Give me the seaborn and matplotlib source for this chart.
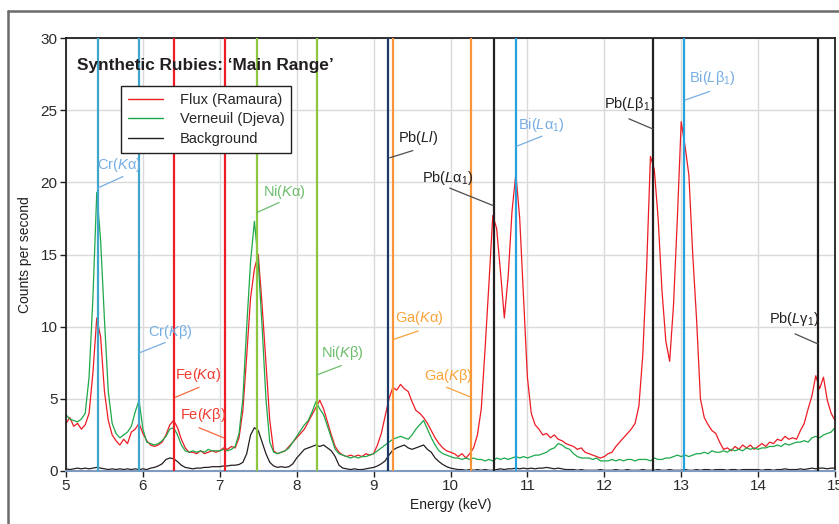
import numpy as np
import pandas as pd
import matplotlib
matplotlib.use("Agg")
import matplotlib.pyplot as plt
import seaborn as sns
from matplotlib import font_manager
from matplotlib.lines import Line2D

# ---------------- data ----------------
energy = np.round(np.arange(5.0, 15.0001, 0.05), 2)  # keV sampling grid

flux = (
    [3.3, 3.7, 3.1, 3.3, 2.9, 3.2, 4.0, 6.8, 10.6, 9.3, 5.5, 3.5, 2.5, 2.1, 1.8, 2.2, 1.9, 2.7, 2.9, 3.3]
    + [2.6, 2.1, 1.8, 1.7, 1.8, 2.0, 2.5, 3.2, 3.5, 3.0, 2.2, 1.6, 1.3, 1.3, 1.2, 1.4, 1.2, 1.3, 1.4, 1.3]
    + [1.4, 1.6, 1.5, 1.7, 1.6, 2.3, 4.2, 8.0, 12.0, 14.0, 15.0, 11.5, 7.5, 3.5, 1.4, 1.2, 1.3, 1.4, 1.7, 2.0]
    + [2.3, 2.6, 2.9, 3.4, 3.9, 4.4, 4.9, 4.3, 3.4, 2.5, 1.7, 1.3, 1.1, 1.0, 1.1, 1.0, 1.1, 1.0, 1.2, 1.1]
    + [1.2, 1.8, 2.6, 3.8, 5.0, 5.8, 5.6, 6.0, 5.7, 5.5, 4.8, 4.2, 4.0, 3.7, 3.3, 2.8, 2.3, 1.9, 1.6, 1.4]
    + [1.3, 1.2, 1.0, 1.2, 0.9, 1.2, 1.6, 2.5, 4.3, 8.5, 13.0, 17.7, 16.8, 13.8, 10.6, 13.5, 18.0, 20.6, 17.5, 12.0]
    + [6.5, 4.0, 3.2, 2.9, 2.5, 2.6, 2.3, 2.5, 2.2, 2.1, 1.9, 1.8, 1.7, 1.5, 1.6, 1.3, 1.2, 1.1, 1.0, 0.9]
    + [1.0, 1.2, 1.3, 1.7, 2.0, 2.3, 2.6, 2.9, 3.3, 4.5, 8.0, 14.0, 21.8, 20.9, 17.5, 12.5, 9.0, 7.6, 11.5, 17.5]
    + [24.2, 22.5, 20.5, 15.0, 10.5, 5.0, 3.7, 3.2, 2.8, 2.6, 2.0, 1.5, 1.6, 1.4, 1.7, 1.5, 1.8, 1.6, 1.8, 1.5]
    + [1.7, 1.9, 1.7, 2.0, 1.9, 2.2, 2.1, 2.4, 2.2, 2.3, 2.2, 2.8, 3.3, 4.3, 5.2, 6.6, 5.7, 6.5, 4.9, 4.0]
    + [3.5]
)

verneuil = (
    [3.9, 3.6, 3.5, 3.4, 3.6, 4.0, 6.5, 12.0, 19.3, 16.0, 10.5, 5.5, 3.3, 2.6, 2.3, 2.5, 2.7, 3.1, 4.1, 4.9]
    + [2.9, 2.0, 1.9, 1.8, 1.9, 2.1, 2.4, 2.9, 3.0, 2.5, 1.8, 1.4, 1.3, 1.4, 1.3, 1.4, 1.3, 1.5, 1.4, 1.4]
    + [1.4, 1.5, 1.4, 1.5, 1.7, 2.6, 5.0, 10.0, 14.5, 17.3, 14.5, 10.0, 5.0, 2.0, 1.3, 1.2, 1.3, 1.4, 1.6, 2.0]
    + [2.4, 2.8, 3.2, 3.5, 4.1, 4.8, 4.3, 3.9, 3.1, 2.3, 1.5, 1.2, 1.1, 1.0, 0.9, 1.0, 0.9, 1.0, 1.0, 1.1]
    + [1.2, 1.4, 1.6, 1.8, 2.0, 2.2, 2.3, 2.4, 2.3, 2.2, 2.5, 2.9, 3.2, 3.5, 2.9, 2.3, 1.8, 1.4, 1.2, 1.1]
    + [1.0, 0.9, 0.9, 0.8, 0.9, 0.8, 0.9, 0.8, 0.8, 0.7, 0.8, 0.7, 0.9, 0.8, 0.9, 0.8, 0.9, 1.0, 0.9, 1.0]
    + [0.9, 1.0, 1.1, 1.1, 1.2, 1.3, 1.5, 1.6, 1.9, 1.8, 1.6, 1.5, 1.2, 1.0, 0.9, 0.9, 0.9, 0.8, 0.9, 0.7]
    + [0.7, 0.7, 0.8, 0.7, 0.8, 0.7, 0.8, 0.8, 0.7, 0.8, 0.8, 0.8, 0.7, 0.9, 0.8, 0.8, 0.9, 0.9, 1.0, 1.1]
    + [1.0, 1.1, 1.0, 1.1, 1.2, 1.2, 1.3, 1.2, 1.4, 1.3, 1.3, 1.4, 1.3, 1.5, 1.4, 1.5, 1.4, 1.6, 1.5, 1.6]
    + [1.5, 1.6, 1.6, 1.7, 1.7, 1.8, 1.7, 1.9, 1.8, 1.9, 2.0, 2.0, 2.1, 2.0, 2.3, 2.4, 2.3, 2.5, 2.6, 2.7]
    + [3.0]
)

background = (
    [0.15, 0.1, 0.15, 0.2, 0.15, 0.2, 0.15, 0.2, 0.25, 0.2, 0.15, 0.1, 0.15, 0.1, 0.15, 0.1, 0.15, 0.1, 0.15, 0.1]
    + [0.15, 0.1, 0.2, 0.25, 0.35, 0.5, 0.8, 0.9, 0.85, 0.65, 0.4, 0.25, 0.2, 0.15, 0.2, 0.2, 0.25, 0.25, 0.3, 0.3]
    + [0.3, 0.35, 0.35, 0.4, 0.4, 0.45, 0.6, 1.2, 2.5, 3.0, 2.8, 2.0, 1.2, 0.6, 0.35, 0.25, 0.3, 0.25, 0.3, 0.5]
    + [0.9, 1.2, 1.5, 1.6, 1.7, 1.8, 1.7, 1.8, 1.6, 1.4, 1.0, 0.4, 0.2, 0.15, 0.1, 0.15, 0.1, 0.1, 0.15, 0.2]
    + [0.25, 0.35, 0.5, 0.7, 1.1, 1.45, 1.6, 1.7, 1.8, 1.6, 1.5, 1.6, 1.7, 1.8, 1.5, 1.3, 0.9, 0.65, 0.45, 0.3]
    + [0.2, 0.15, 0.1, 0.1, 0.05, 0.1, 0.05, 0.1, 0.05, 0.1, 0.05, 0.05, 0.1, 0.15, 0.1, 0.15, 0.15, 0.2, 0.15, 0.2]
    + [0.15, 0.2, 0.15, 0.2, 0.2, 0.25, 0.2, 0.15, 0.2, 0.15, 0.1, 0.1, 0.1, 0.05, 0.1, 0.05, 0.05, 0.05, 0.05, 0.1]
    + [0.05, 0.05, 0.05, 0.1, 0.05, 0.05, 0.1, 0.05, 0.05, 0.05, 0.1, 0.05, 0.05, 0.05, 0.1, 0.05, 0.05, 0.1, 0.05, 0.05]
    + [0.05, 0.1, 0.05, 0.05, 0.1, 0.05, 0.1, 0.1, 0.05, 0.1, 0.1, 0.1, 0.05, 0.1, 0.1, 0.05, 0.1, 0.1, 0.1, 0.1]
    + [0.1, 0.05, 0.1, 0.1, 0.05, 0.1, 0.1, 0.15, 0.1, 0.1, 0.1, 0.15, 0.1, 0.15, 0.2, 0.15, 0.2, 0.2, 0.15, 0.2]
    + [0.2]
)

series_names = ["Flux (Ramaura)", "Verneuil (Djeva)", "Background"]

line_labels = [
    "Cr($\\mathit{K}$α)", "Cr($\\mathit{K}$β)", "Fe($\\mathit{K}$α)", "Fe($\\mathit{K}$β)",
    "Ni($\\mathit{K}$α)", "Ni($\\mathit{K}$β)", "Pb($\\mathit{Ll}$)", "Ga($\\mathit{K}$α)",
    "Ga($\\mathit{K}$β)", "Pb($\\mathit{L}$α$_1$)", "Bi($\\mathit{L}$α$_1$)", "Pb($\\mathit{L}$β$_1$)",
    "Bi($\\mathit{L}$β$_1$)", "Pb($\\mathit{L}$γ$_1$)",
]
line_energies = [5.41, 5.95, 6.40, 7.07, 7.48, 8.27, 9.19, 9.25, 10.27, 10.56, 10.85, 12.63, 13.04, 14.78]
line_element = ["Cr", "Cr", "Fe", "Fe", "Ni", "Ni", "PbL", "Ga", "Ga", "Pb", "Bi", "Pb", "Bi", "Pb"]

# ---------------- layout / style ----------------
# (text_x, text_y, leader_start_x, leader_start_y, leader_end_x, leader_end_y)
label_layout = [
    (5.40, 21.2, 5.41, 19.6, 5.74, 20.4),
    (6.07, 9.6, 5.96, 8.2, 6.29, 8.9),
    (6.42, 6.65, 6.42, 5.1, 6.73, 5.8),
    (6.48, 3.9, 6.73, 3.0, 7.05, 2.3),
    (7.56, 19.3, 7.48, 17.9, 7.77, 18.6),
    (8.32, 8.2, 8.26, 6.65, 8.58, 7.3),
    (9.32, 23.1, 9.21, 21.7, 9.51, 22.2),
    (9.28, 10.6, 9.25, 9.1, 9.58, 9.7),
    (9.66, 6.6, 9.95, 5.8, 10.27, 5.1),
    (9.63, 20.3, 9.99, 19.6, 10.55, 18.4),
    (10.88, 24.0, 10.86, 22.5, 11.19, 23.2),
    (12.00, 25.4, 12.32, 24.4, 12.63, 23.7),
    (13.10, 27.2, 13.05, 25.7, 13.37, 26.3),
    (14.14, 10.5, 14.48, 9.5, 14.78, 8.8),
]
vline_color = {"Cr": "#3fa7cc", "Fe": "#ee1d25", "Ni": "#8dc63f", "PbL": "#1c3a63",
               "Ga": "#f7953a", "Pb": "#231f20", "Bi": "#26a3dc"}
text_color = {"Cr": "#76aee3", "Fe": "#ef3b2f", "Ni": "#6cbd6c", "PbL": "#231f20",
              "Ga": "#f8a33a", "Pb": "#231f20", "Bi": "#76aee3"}
leader_color = {"Cr": "#76aee3", "Fe": "#f26a3f", "Ni": "#6cbd6c", "PbL": "#4d4d4d",
                "Ga": "#f8a33a", "Pb": "#4d4d4d", "Bi": "#76aee3"}
palette = {"Flux (Ramaura)": "#ed1c24", "Verneuil (Djeva)": "#1ea84a", "Background": "#231f20"}

sns.set_theme(style="white")
names = {f.name for f in font_manager.fontManager.ttflist}
main_font = "Liberation Sans Narrow" if "Liberation Sans Narrow" in names else "Liberation Sans"
plt.rcParams["font.family"] = [main_font, "DejaVu Sans"]
plt.rcParams["mathtext.fontset"] = "custom"
plt.rcParams["mathtext.rm"] = main_font
plt.rcParams["mathtext.it"] = main_font + ":italic"
plt.rcParams["mathtext.bf"] = main_font + ":bold"

df = pd.DataFrame({
    "Energy": np.concatenate([energy] * 3),
    "cps": np.concatenate([flux, verneuil, background]),
    "Series": np.repeat(series_names, len(energy)),
})

fig = plt.figure(figsize=(8.39, 5.24), dpi=100)
ax = fig.add_axes([66 / 839, 1 - 471 / 524, 769 / 839, 433 / 524])

# outer frame of the figure
fig.add_artist(Line2D([8 / 839, 8 / 839], [0, 1 - 11 / 524], transform=fig.transFigure,
                      color="#6b6b6b", lw=1.8))
fig.add_artist(Line2D([8 / 839, 1], [1 - 11 / 524, 1 - 11 / 524], transform=fig.transFigure,
                      color="#6b6b6b", lw=1.8))

ax.set_xlim(5, 15)
ax.set_ylim(0, 30)
ax.set_xticks(range(5, 16))
ax.set_yticks(range(0, 31, 5))
ax.grid(True, color="#dadada", lw=1.0)
ax.set_axisbelow(True)

sns.lineplot(data=df, x="Energy", y="cps", hue="Series", palette=palette,
             estimator=None, sort=False, lw=0.9, legend=False, ax=ax, zorder=2)

for name, e, el, lay in zip(line_labels, line_energies, line_element, label_layout):
    ax.axvline(e, color=vline_color[el], lw=1.6, zorder=3)
    tx, ty, x0, y0, x1, y1 = lay
    ax.plot([x0, x1], [y0, y1], color=leader_color[el], lw=0.9, zorder=4)
    ax.text(tx, ty, name, color=text_color[el], fontsize=10.5, ha="left", va="center", zorder=5)

ax.text(0.0143, 0.953, "Synthetic Rubies: ‘Main Range’", transform=ax.transAxes,
        fontsize=12.4, fontweight="bold", color="#231f20", ha="left", va="top", zorder=6)

handles = [Line2D([], [], color=palette[s], lw=1.0) for s in series_names]
leg = ax.legend(handles, series_names, loc="upper left", bbox_to_anchor=(0.0715, 0.889),
                borderaxespad=0, frameon=True, fancybox=False, fontsize=10.5,
                handlelength=2.4, handletextpad=1.2, labelspacing=0.4, borderpad=0.45)
leg.get_frame().set_edgecolor("#231f20")
leg.get_frame().set_linewidth(1.0)
leg.get_frame().set_alpha(1)
leg.set_zorder(7)

for side in ["left", "top", "right"]:
    ax.spines[side].set_color("#231f20")
    ax.spines[side].set_linewidth(1.3)
ax.spines["bottom"].set_color("#7f9cc0")
ax.spines["bottom"].set_linewidth(1.5)

ax.tick_params(axis="both", which="both", direction="out", length=4, width=1,
               color="#231f20", labelsize=11, labelcolor="#2b2b2b", pad=2,
               left=True, bottom=True)
ax.set_xlabel("Energy (keV)", fontsize=10, color="#231f20", labelpad=3)
ax.set_ylabel("Counts per second", fontsize=10, color="#231f20", labelpad=6)

fig.savefig("out.png", dpi=100)
